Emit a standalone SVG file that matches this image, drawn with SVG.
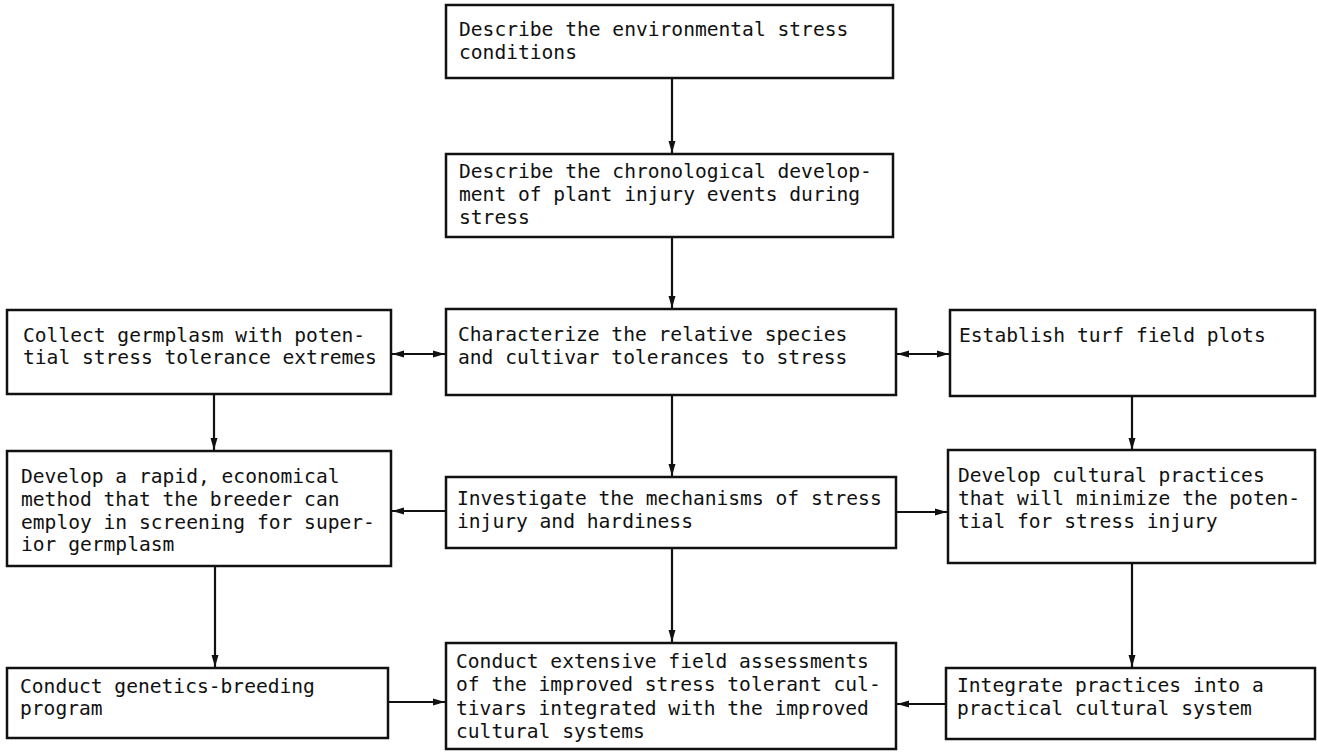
<svg xmlns="http://www.w3.org/2000/svg" width="1317" height="752" viewBox="0 0 1317 752">
<defs>
<style>
.box{fill:#fff;stroke:#111;stroke-width:2.5}
.t{font-family:"DejaVu Sans Mono","Liberation Mono",monospace;font-size:19.6px;fill:#111}
.c{fill:none;stroke:#111;stroke-width:2.2}
</style>
<marker id="ah" viewBox="0 0 12 8" refX="12" refY="4" markerWidth="12" markerHeight="8" markerUnits="userSpaceOnUse" orient="auto-start-reverse">
<path d="M0,0.5 L12,4 L0,7.5 Z" fill="#111"/>
</marker>
</defs>
<rect width="1317" height="752" fill="#fff"/>
<g id="connectors">
<line class="c" x1="672" y1="78" x2="672" y2="153" marker-end="url(#ah)"/>
<line class="c" x1="672" y1="237" x2="672" y2="308" marker-end="url(#ah)"/>
<line class="c" x1="392" y1="354" x2="445" y2="354" marker-start="url(#ah)" marker-end="url(#ah)"/>
<line class="c" x1="897" y1="354" x2="949" y2="354" marker-start="url(#ah)" marker-end="url(#ah)"/>
<line class="c" x1="214" y1="394" x2="214" y2="450" marker-end="url(#ah)"/>
<line class="c" x1="1132" y1="396" x2="1132" y2="450" marker-end="url(#ah)"/>
<line class="c" x1="672" y1="395" x2="672" y2="476" marker-end="url(#ah)"/>
<line class="c" x1="446" y1="511" x2="392" y2="511" marker-end="url(#ah)"/>
<line class="c" x1="896" y1="512" x2="947" y2="512" marker-end="url(#ah)"/>
<line class="c" x1="215" y1="566" x2="215" y2="667" marker-end="url(#ah)"/>
<line class="c" x1="672" y1="548" x2="672" y2="642" marker-end="url(#ah)"/>
<line class="c" x1="1132" y1="563" x2="1132" y2="667" marker-end="url(#ah)"/>
<line class="c" x1="388" y1="702" x2="445" y2="702" marker-end="url(#ah)"/>
<line class="c" x1="946" y1="704" x2="897" y2="704" marker-end="url(#ah)"/>
</g>
<g id="n1"><rect class="box" x="446" y="5" width="447" height="73"/>
<text class="t" x="459" y="36">Describe the environmental stress</text>
<text class="t" x="459" y="59">conditions</text></g>
<g id="n2"><rect class="box" x="446" y="154" width="447" height="83"/>
<text class="t" x="459" y="178">Describe the chronological develop-</text>
<text class="t" x="459" y="201">ment of plant injury events during</text>
<text class="t" x="459" y="224">stress</text></g>
<g id="n3"><rect class="box" x="446" y="309" width="450" height="86"/>
<text class="t" x="458" y="341">Characterize the relative species</text>
<text class="t" x="458" y="364">and cultivar tolerances to stress</text></g>
<g id="n4"><rect class="box" x="7" y="310" width="384" height="84"/>
<text class="t" x="23" y="342">Collect germplasm with poten-</text>
<text class="t" x="23" y="364">tial stress tolerance extremes</text></g>
<g id="n5"><rect class="box" x="950" y="310" width="365" height="86"/>
<text class="t" x="959" y="342">Establish turf field plots</text></g>
<g id="n6"><rect class="box" x="7" y="451" width="384" height="115"/>
<text class="t" x="21" y="483">Develop a rapid, economical</text>
<text class="t" x="21" y="506">method that the breeder can</text>
<text class="t" x="21" y="529">employ in screening for super-</text>
<text class="t" x="21" y="551">ior germplasm</text></g>
<g id="n7"><rect class="box" x="446" y="477" width="450" height="71"/>
<text class="t" x="457" y="505">Investigate the mechanisms of stress</text>
<text class="t" x="457" y="528">injury and hardiness</text></g>
<g id="n8"><rect class="box" x="948" y="450" width="367" height="113"/>
<text class="t" x="958" y="482">Develop cultural practices</text>
<text class="t" x="958" y="505">that will minimize the poten-</text>
<text class="t" x="958" y="528">tial for stress injury</text></g>
<g id="n9"><rect class="box" x="7" y="668" width="381" height="70"/>
<text class="t" x="20" y="693">Conduct genetics-breeding</text>
<text class="t" x="20" y="715">program</text></g>
<g id="n10"><rect class="box" x="446" y="643" width="450" height="106"/>
<text class="t" x="456" y="668">Conduct extensive field assessments</text>
<text class="t" x="456" y="691">of the improved stress tolerant cul-</text>
<text class="t" x="456" y="715">tivars integrated with the improved</text>
<text class="t" x="456" y="738">cultural systems</text></g>
<g id="n11"><rect class="box" x="946" y="668" width="369" height="71"/>
<text class="t" x="957" y="692">Integrate practices into a</text>
<text class="t" x="957" y="715">practical cultural system</text></g>
</svg>
